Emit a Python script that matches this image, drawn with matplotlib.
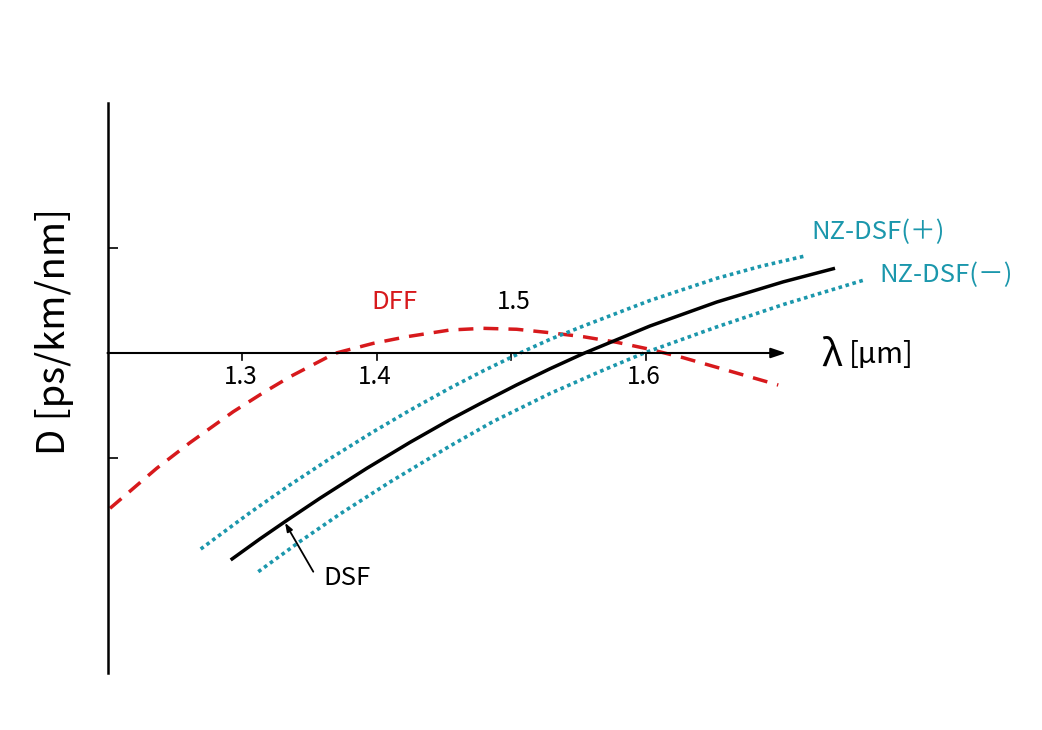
import numpy as np
import matplotlib
matplotlib.use("Agg")
import matplotlib.pyplot as plt

plt.rcParams["font.family"] = ["Noto Sans CJK JP", "DejaVu Sans"]

# ---------------------------------------------------------------------------
# Data: wavelength [um] vs dispersion (arb. units)
# ---------------------------------------------------------------------------
dff_lam = [1.2019, 1.2366, 1.2613, 1.2935, 1.3158, 1.3357, 1.3691, 1.3976,
           1.4225, 1.4546, 1.4794, 1.5042, 1.5290, 1.5538, 1.5786, 1.6033,
           1.6281, 1.6529, 1.6987]
dff_d = [-1.479, -1.098, -0.854, -0.559, -0.378, -0.226, -0.003, 0.092,
         0.155, 0.219, 0.235, 0.226, 0.193, 0.155, 0.102, 0.035,
         -0.045, -0.136, -0.305]

dsf_lam = [1.2916, 1.3134, 1.3320, 1.3580, 1.3927, 1.4249, 1.4546, 1.4770,
           1.5042, 1.5290, 1.5538, 1.6033, 1.6529, 1.7025, 1.7409]
dsf_d = [-1.971, -1.770, -1.606, -1.383, -1.099, -0.851, -0.635, -0.483,
         -0.304, -0.150, -0.005, 0.257, 0.485, 0.678, 0.807]

nzp_lam = [1.2693, 1.3059, 1.3357, 1.3654, 1.3976, 1.4249, 1.4546, 1.4794,
           1.5067, 1.5290, 1.5538, 1.6033, 1.6529, 1.6851, 1.7186]
nzp_d = [-1.867, -1.521, -1.256, -1.006, -0.750, -0.545, -0.334, -0.170,
         0.000, 0.130, 0.257, 0.500, 0.711, 0.824, 0.924]

nzm_lam = [1.3121, 1.3431, 1.3729, 1.4100, 1.4546, 1.4868, 1.5290, 1.5662,
           1.5984, 1.6529, 1.7025, 1.7625]
nzm_d = [-2.083, -1.795, -1.533, -1.229, -0.886, -0.652, -0.386, -0.176,
         -0.003, 0.248, 0.462, 0.695]

xtick_vals = [1.3, 1.4, 1.5, 1.6]
xtick_labels = ["1.3", "1.4", "1.5", "1.6"]
ytick_vals = [-1, 1]

RED = "#d7191c"
TEAL = "#1b97ac"

# pixel mapping: lambda 1.2 at x=107.5 px, 0.1 um = 134.5 px; D 0 at y=353 px, 1 unit = 105 px
W, H = 1042, 730
X0, SX = 107.5, 1345.0
Y0, SY = 353.0, 105.0

fig = plt.figure(figsize=(W / 100, H / 100), dpi=100)
ax = fig.add_axes([0, 0, 1, 1])
ax.set_xlim(1.2 - X0 / SX, 1.2 + (W - X0) / SX)
ax.set_ylim(-(H - Y0) / SY, Y0 / SY)
ax.patch.set_alpha(0)

# axes lines
for s in ["top", "right", "bottom"]:
    ax.spines[s].set_visible(False)
ax.spines["left"].set_position(("data", 1.2))
ax.spines["left"].set_bounds(-3.05, 2.38)
ax.spines["left"].set_linewidth(1.8)
ax.annotate("", xy=(1.7045, 0), xytext=(1.2, 0),
            arrowprops=dict(arrowstyle="-|>,head_length=0.9,head_width=0.3",
                            color="black", lw=1.5, shrinkA=0, shrinkB=0))

ax.set_xticks([])
ax.set_yticks(ytick_vals)
ax.set_yticklabels([])
ax.tick_params(axis="y", direction="in", length=7, width=1.2, pad=0)

# x ticks drawn at the arrow axis
for v in xtick_vals:
    ax.plot([v, v], [0, -0.065], color="black", lw=1.2)
for v, lab in zip(xtick_vals, xtick_labels):
    if lab == "1.5":
        ax.text(v + 0.0022, 0.486, lab, ha="center", va="center", fontsize=17.5)
    else:
        ax.text(v - 0.001, -0.229, lab, ha="center", va="center", fontsize=17.5)

# curves
ax.plot(dff_lam, dff_d, color=RED, lw=2.5, dashes=(4.3, 2.9))
ax.plot(nzp_lam, nzp_d, color=TEAL, lw=2.6, dashes=(1.0, 1.0))
ax.plot(nzm_lam, nzm_d, color=TEAL, lw=2.6, dashes=(1.0, 1.0))
ax.plot(dsf_lam, dsf_d, color="black", lw=2.5, solid_capstyle="butt",
        solid_joinstyle="round")

# labels
ax.text(1.413, 0.486, "DFF", color=RED, ha="center", va="center", fontsize=18.5)
ax.text(1.7729, 1.152, "NZ-DSF(＋)", color=TEAL, ha="center", va="center", fontsize=18.5)
ax.text(1.8234, 0.743, "NZ-DSF(－)", color=TEAL, ha="center", va="center", fontsize=18.5)
ax.text(1.3784, -2.143, "DSF", color="black", ha="center", va="center", fontsize=18.5)
ax.annotate("", xy=(1.332, -1.617), xytext=(1.353, -2.083),
            arrowprops=dict(arrowstyle="-|>,head_length=0.5,head_width=0.18",
                            color="black", lw=1.3, shrinkA=0, shrinkB=0))

ax.text(1.7387, -0.02, "λ", ha="center", va="center", fontsize=27)
ax.text(1.7751, -0.02, "[µm]", ha="center", va="center", fontsize=21)
fig.text(55 / W, 1 - 331 / H, "D [ps/km/nm]", rotation=90, ha="center",
         va="center", fontsize=27.5)

fig.savefig("out.png", dpi=100, facecolor="white")
